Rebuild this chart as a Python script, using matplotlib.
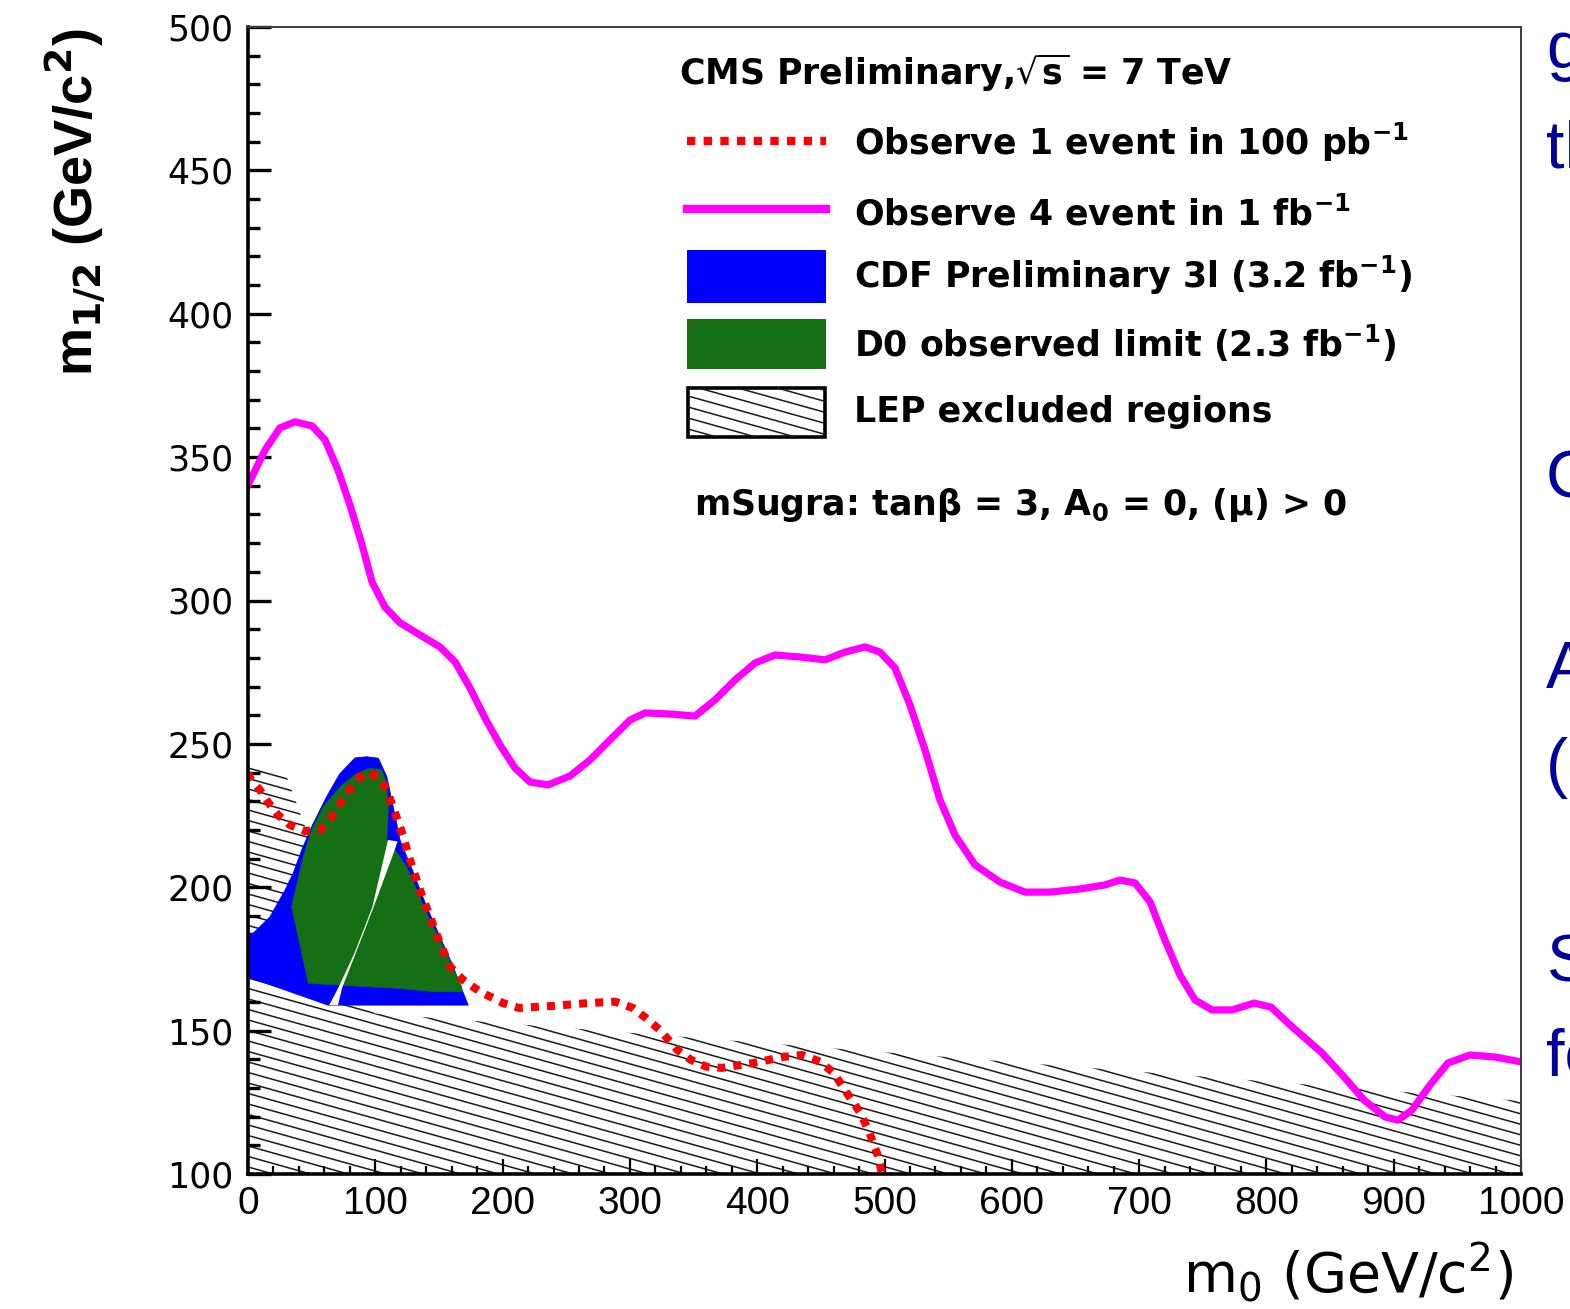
import numpy as np
import matplotlib
matplotlib.use("Agg")
import matplotlib.pyplot as plt
from matplotlib.patches import Polygon, Rectangle
from matplotlib.collections import LineCollection
from matplotlib.ticker import MultipleLocator

plt.rcParams['mathtext.fontset'] = 'dejavusans'

# --- mSUGRA plane (m0, m1/2), GeV/c^2 ---
# CMS reach, 4 events in 1 fb^-1
m0_cms_1fb = [0, 13.4, 25.1, 36.9, 50.3, 60.5, 70.7, 80.1, 89.6, 97.4, 107.6, 119.4,
              135.1, 150.8, 162.6, 174.4, 186.2, 198.0, 209.7, 221.5, 235.7, 253.0,
              268.7, 284.4, 300.1, 311.9, 331.5, 351.1, 366.8, 382.6, 398.3, 414.0,
              433.6, 453.3, 469.0, 484.7, 496.5, 508.2, 520.0, 531.8, 543.6, 555.4,
              571.1, 590.7, 610.4, 630.0, 653.6, 673.2, 685.0, 696.8, 708.6, 720.3,
              732.1, 743.9, 757.3, 773.0, 790.3, 803.6, 818.5, 843.7, 861.7, 876.7,
              893.2, 903.4, 914.4, 928.5, 942.6, 959.9, 979.6, 1000]
m12_cms_1fb = [340.3, 352.5, 360.2, 362.3, 360.9, 356.0, 345.5, 333.3, 319.4, 306.5,
               297.7, 292.2, 288.0, 283.8, 278.6, 269.5, 259.0, 249.6, 241.6, 236.7,
               235.7, 238.8, 244.4, 251.4, 258.3, 260.8, 260.4, 259.7, 265.3, 272.3,
               278.2, 281.0, 280.3, 279.3, 282.0, 283.8, 282.0, 276.5, 263.6, 247.9,
               230.4, 218.2, 207.8, 201.8, 198.3, 198.3, 199.4, 200.8, 202.5, 201.5,
               194.9, 181.6, 169.4, 160.7, 157.2, 157.2, 159.6, 158.2, 152.0, 142.2,
               133.5, 125.8, 119.9, 118.8, 122.3, 131.0, 138.7, 141.5, 140.8, 139.1]

# CMS reach, 1 event in 100 pb^-1
m0_cms_100pb = [0, 1.6, 9.4, 15.7, 23.6, 33.0, 44.8, 56.6, 64.4, 70.7, 77.8, 84.1,
                93.2, 103.7, 109.0, 113.9, 120.7, 127.3, 135.1, 143.0, 150.8, 158.7,
                168.9, 182.2, 200.3, 212.9, 238.8, 267.1, 288.3, 302.4, 312.6, 323.6,
                337.4, 348.0, 360.2, 372.3, 396.7, 421.5, 435.6, 449.3, 460.2, 470.5,
                481.1, 488.2, 495.2, 498.0]
m12_cms_100pb = [239.8, 238.1, 233.9, 229.7, 225.2, 221.7, 219.6, 220.0, 223.8, 228.0,
                 232.5, 236.7, 240.3, 238.1, 233.9, 228.0, 219.4, 209.5, 199.0, 189.7,
                 180.6, 172.3, 167.7, 163.6, 159.6, 157.9, 158.6, 159.6, 160.1, 157.9,
                 154.4, 150.2, 143.2, 139.8, 137.4, 137.0, 138.7, 140.9, 141.5, 139.2,
                 135.2, 128.2, 121.3, 114.3, 106.0, 100.0]

# CDF trilepton exclusion
m0_cdf = [0, 4.2, 17.3, 29.1, 35.6, 42.2, 50.0, 61.8, 72.0, 84.1, 93.2, 102.4, 109.0,
          112.9, 116.8, 119.4, 130.0, 140.4, 151.0, 161.3, 167.0, 173.0, 70.7, 62.8, 0]
m12_cdf = [184.0, 184.0, 189.7, 199.0, 205.0, 213.0, 221.1, 231.6, 239.5, 245.1, 245.5,
           245.0, 238.6, 230.4, 222.3, 216.5, 205.0, 193.2, 182.5, 172.3, 165.5, 158.9,
           158.9, 158.9, 168.7]

# D0 observed exclusion
m0_d0 = [47.4, 34.3, 43.5, 50.0, 59.2, 72.3, 85.4, 95.8, 105.0, 109.0, 110.2, 109.0,
         115.5, 124.6, 140.4, 156.0, 168.0, 168.0, 145.6, 116.7, 82.7]
m12_d0 = [166.5, 193.2, 210.7, 220.0, 228.1, 235.0, 239.7, 241.5, 240.9, 236.2, 227.0,
          216.5, 213.0, 207.2, 190.9, 176.7, 165.3, 163.6, 163.6, 164.8, 165.6]

# unfilled seam between the two exclusion lobes
m0_seam = [110.0, 117.5, 114.0, 98.6, 90.8, 84.6, 74.0, 70.7, 63.8, 71.0, 83.6, 89.8, 97.6]
m12_seam = [216.5, 216.0, 211.5, 193.0, 184.0, 177.0, 165.0, 158.9, 158.9, 165.0, 177.0,
            184.0, 193.0]

# LEP excluded region (upper boundary, closed along the bottom)
m0_lep = [0, 30, 50, 65, 100, 1000, 1000, 0]
m12_lep = [243, 239, 215, 165, 156, 125.5, 100, 100]

x_ticks = np.arange(0, 1001, 100)
y_ticks = np.arange(100, 501, 50)

legend_labels = [r"Observe 1 event in 100 pb$^{\mathbf{-1}}$",
                 r"Observe 4 event in 1 fb$^{\mathbf{-1}}$",
                 r"CDF Preliminary 3l (3.2 fb$^{\mathbf{-1}}$)",
                 r"D0 observed limit (2.3 fb$^{\mathbf{-1}}$)",
                 "LEP excluded regions"]
header = r"CMS Preliminary,$\sqrt{\mathbf{s}}$ = 7 TeV"
model_text = r"mSugra: tanβ = 3, A$_{\mathbf{0}}$ = 0, (μ) > 0"
side_text = ["g", "th", "C", "A", "(", "S", "fo"]

RED = "#ff0000"
MAGENTA = "#ff00ff"
BLUE = "#0000ff"
GREEN = "#157015"

W, H = 1570, 1309
fig = plt.figure(figsize=(W / 100, H / 100), dpi=100)
ax = fig.add_axes([248 / W, 1 - 1174 / H, 1273 / W, 1147 / H])

# LEP region: slanted hatch lines clipped to the polygon
lep = Polygon(np.column_stack([m0_lep, m12_lep]), closed=True,
              facecolor="none", edgecolor="none")
ax.add_patch(lep)
slope = -0.28 * 1273 / 1147
step = 10.5 / 1147
cs = 0.354 + step * np.arange(-45, 70)
segs = [[(0, c), (1, c + slope)] for c in cs]
lc = LineCollection(segs, colors="#1a1a1a", linewidths=1.1,
                    transform=ax.transAxes, zorder=1)
ax.add_collection(lc, autolim=False)
lc.set_clip_path(lep)

ax.fill(m0_cdf, m12_cdf, color=BLUE, lw=0.6, zorder=2)
ax.fill(m0_d0, m12_d0, color=GREEN, lw=0.4, zorder=3)
ax.fill(m0_seam, m12_seam, color="white", lw=0, zorder=3.5)
ax.plot(m0_cms_100pb, m12_cms_100pb, color=RED, lw=5.8, ls=(0, (1, 1)),
        dash_capstyle="butt", zorder=4)
ax.plot(m0_cms_1fb, m12_cms_1fb, color=MAGENTA, lw=5.2,
        solid_joinstyle="round", zorder=5)

ax.set_xlim(0, 1000)
ax.set_ylim(100, 500)

ax.set_xticks(x_ticks, [str(v) for v in x_ticks], fontfamily="Liberation Sans", fontsize=28)
ax.set_yticks(y_ticks, [str(v) for v in y_ticks], fontfamily="DejaVu Sans", fontsize=25)
ax.xaxis.set_minor_locator(MultipleLocator(20))
ax.yaxis.set_minor_locator(MultipleLocator(10))
ax.tick_params(axis="y", which="major", direction="in", length=16.5, width=2.4, pad=10.5)
ax.tick_params(axis="y", which="minor", direction="in", length=8.6, width=2.4)
ax.tick_params(axis="x", which="major", direction="in", length=11, width=1.6, pad=9)
ax.tick_params(axis="x", which="minor", direction="in", length=5.5, width=1.6)

for side in ("left", "bottom"):
    ax.spines[side].set_linewidth(2.6)
for side in ("top", "right"):
    ax.spines[side].set_linewidth(1.4)
    ax.spines[side].set_color("#3a3a3a")
for sp in ax.spines.values():
    sp.set_zorder(6)

# overlay in pixel units for legend and free text
ov = fig.add_axes([0, 0, 1, 1], zorder=5)
ov.set_xlim(0, W)
ov.set_ylim(H, 0)
ov.axis("off")

txt = dict(fontsize=25, fontweight="bold", family="DejaVu Sans", va="baseline")
ov.text(679, 85, header, **txt)

ov.plot([687, 826], [141, 141], color=RED, lw=6, ls=(0, (1, 1)), dash_capstyle="butt")
ov.plot([687, 826], [208.5, 208.5], color=MAGENTA, lw=6)
ov.add_patch(Rectangle((687, 250), 139, 52.5, color=BLUE, lw=0))
ov.add_patch(Rectangle((687, 319), 139, 50, color=GREEN, lw=0))
box = Rectangle((688, 387.5), 137, 49, fill=False, ec="black", lw=2.6)
ov.add_patch(box)
box_segs = [[(688, y0), (825, y0 + 0.28 * 137)] for y0 in np.arange(330, 440, 11)]
blc = LineCollection(box_segs, colors="#1a1a1a", linewidths=1.1)
ov.add_collection(blc, autolim=False)
blc.set_clip_path(Rectangle((688, 387.5), 137, 49, transform=ov.transData))

for lbl, yb in zip(legend_labels, [155, 225, 288, 357, 422]):
    ov.text(854, yb, lbl, **txt)
ov.text(694, 515, model_text, **txt)

ov.text(75, 28, r"m$_{\mathbf{1/2}}$ (GeV/c$^{\mathbf{2}}$)", rotation=90,
        ha="center", va="top", fontsize=39, fontweight="bold", family="Liberation Sans")
ov.text(1513, 1292, r"m$_0$ (GeV/c$^2$)", ha="right", va="baseline",
        fontsize=40, family="DejaVu Sans")

# slide text running past the right edge of the page
for s, yb in zip(side_text, [68, 168, 498, 688, 785, 982, 1075]):
    ov.text(1546, yb, s, fontsize=48, color="#00009c", family="Liberation Sans",
            va="baseline")

fig.savefig("out.png", dpi=100)
